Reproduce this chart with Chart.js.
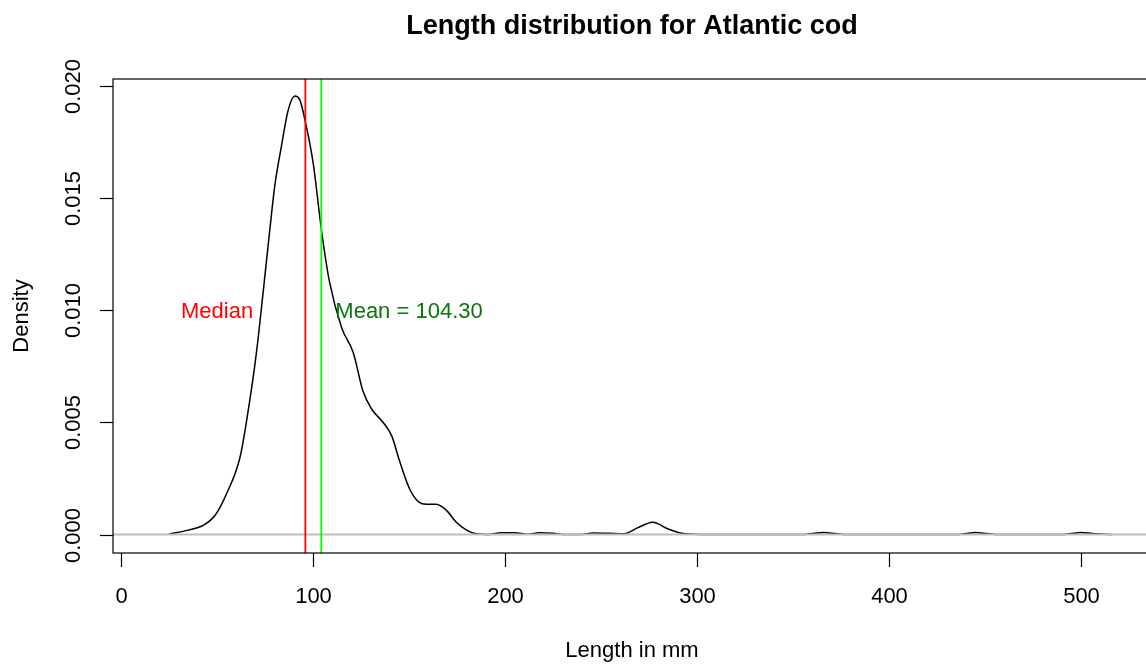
<!DOCTYPE html>
<html>
<head>
<meta charset="utf-8">
<title>Length distribution for Atlantic cod</title>
<script src="https://cdn.jsdelivr.net/npm/chart.js@4/dist/chart.umd.min.js"></script>
<style>
  html, body { margin: 0; padding: 0; background: #fff; overflow: hidden; }
  canvas { display: block; }
</style>
</head>
<body>
<canvas id="densityChart" width="1160" height="664"></canvas>
<script>
// Kernel density of cod lengths
const lengthMm = [25, 35, 43, 49, 55, 62, 66, 70.5, 74, 77.5, 80, 83.5, 87, 90.5, 93, 95.5,
  100, 104.5, 108.5, 115, 121, 126, 130.5, 136.5, 141, 145, 150.5, 155, 159, 164, 169.5, 174.5,
  180, 185, 192, 198, 205, 212, 218, 225, 232, 240, 246, 254, 262, 269, 277, 285, 292, 298, 305,
  355, 360, 366, 372, 378, 435, 440, 445, 451, 457, 490, 495, 500, 506, 516];
const density = [0.00003, 0.0002, 0.00042, 0.00086, 0.00183, 0.00346, 0.0054, 0.0081, 0.0108,
  0.0136, 0.0155, 0.0173, 0.0189, 0.01955, 0.0194, 0.0186,
  0.0166, 0.0135, 0.0113, 0.0092, 0.0081, 0.0064, 0.0056, 0.005, 0.0044, 0.0033, 0.002, 0.00146,
  0.00135, 0.00135, 0.00108, 0.00056,
  0.0002, 0.00004, 0.00001, 0.00008, 0.00008, 0.00002, 0.00008, 0.00006, 0, 0.00001, 0.00007,
  0.00006, 0.00004, 0.0003, 0.00055, 0.00025, 0.00006, 0.00002, 0,
  0, 0.00005, 0.00009, 0.00005, 0, 0, 0.00005, 0.00009, 0.00005, 0, 0, 0.00005, 0.00009, 0.00005, 0];

const medianLength = 96;
const meanLength = 104.3;

// axis ranges and ticks (R style, 4% padding)
const xRange = [-4.2, 536.5];
const yRange = [-0.00082, 0.02031];
const xTicks = [0, 100, 200, 300, 400, 500];
const yTicks = [0, 0.005, 0.010, 0.015, 0.020];
const yTickLabels = ['0.000', '0.005', '0.010', '0.015', '0.020'];

const FONT = "'Liberation Sans', Arial, Helvetica, sans-serif";

const curvePoints = lengthMm.map((x, i) => ({ x: x, y: density[i] }));

// axes, box, title and labels drawn R-like on top of the chart
const baseGraphics = {
  id: 'baseGraphics',
  afterDraw(chart) {
    const ctx = chart.ctx;
    const xs = chart.scales.x;
    const ys = chart.scales.y;
    const area = chart.chartArea;
    ctx.save();

    // plot box
    ctx.strokeStyle = '#000';
    ctx.lineWidth = 1.2;
    ctx.strokeRect(area.left, area.top, area.right - area.left, area.bottom - area.top);

    // x ticks
    ctx.fillStyle = '#000';
    ctx.font = '22px ' + FONT;
    ctx.textAlign = 'center';
    ctx.textBaseline = 'alphabetic';
    xTicks.forEach(v => {
      const px = Math.round(xs.getPixelForValue(v)) + 0.5;
      ctx.beginPath();
      ctx.moveTo(px, area.bottom);
      ctx.lineTo(px, area.bottom + 14);
      ctx.stroke();
      ctx.fillText(String(v), px, 603);
    });

    // y ticks, labels turned like R's las=0
    yTicks.forEach((v, i) => {
      const py = Math.round(ys.getPixelForValue(v)) + 0.5;
      ctx.beginPath();
      ctx.moveTo(area.left, py);
      ctx.lineTo(area.left - 13, py);
      ctx.stroke();
      ctx.save();
      ctx.translate(80, py);
      ctx.rotate(-Math.PI / 2);
      ctx.fillText(yTickLabels[i], 0, 0);
      ctx.restore();
    });

    // axis titles
    ctx.fillText('Length in mm', (area.left + area.right) / 2, 657);
    ctx.save();
    ctx.translate(28, (area.top + area.bottom) / 2);
    ctx.rotate(-Math.PI / 2);
    ctx.fillText('Density', 0, 0);
    ctx.restore();

    // main title
    ctx.font = 'bold 27px ' + FONT;
    ctx.fillText('Length distribution for Atlantic cod', (area.left + area.right) / 2, 34);

    // text labels inside the plot
    ctx.font = '22px ' + FONT;
    const ty = ys.getPixelForValue(0.01) + 8;
    ctx.fillStyle = '#FF0000';
    ctx.fillText('Median', xs.getPixelForValue(50), ty);
    ctx.fillStyle = '#0B740B';
    ctx.fillText('Mean = ' + meanLength.toFixed(2), xs.getPixelForValue(150), ty);

    ctx.restore();
  }
};

const ctx = document.getElementById('densityChart').getContext('2d');
new Chart(ctx, {
  type: 'line',
  data: {
    datasets: [
      {
        label: 'Mean',
        data: [{ x: meanLength, y: yRange[0] }, { x: meanLength, y: yRange[1] }],
        borderColor: '#00FF00',
        borderWidth: 1.8,
        pointRadius: 0,
        order: 0
      },
      {
        label: 'Median',
        data: [{ x: medianLength, y: yRange[0] }, { x: medianLength, y: yRange[1] }],
        borderColor: '#FF0000',
        borderWidth: 1.8,
        pointRadius: 0,
        order: 1
      },
      {
        label: 'zero',
        data: [{ x: xRange[0], y: 0 }, { x: xRange[1], y: 0 }],
        borderColor: '#BEBEBE',
        borderWidth: 2,
        pointRadius: 0,
        order: 2
      },
      {
        label: 'Density',
        data: curvePoints,
        borderColor: '#000',
        borderWidth: 1.5,
        pointRadius: 0,
        cubicInterpolationMode: 'monotone',
        fill: false,
        order: 3
      }
    ]
  },
  options: {
    responsive: false,
    animation: false,
    devicePixelRatio: 1,
    layout: { padding: { left: 113, top: 79, right: 9, bottom: 111 } },
    plugins: {
      legend: { display: false },
      tooltip: { enabled: false },
      title: { display: false }
    },
    scales: {
      x: { type: 'linear', min: xRange[0], max: xRange[1], display: false },
      y: { type: 'linear', min: yRange[0], max: yRange[1], display: false }
    }
  },
  plugins: [baseGraphics]
});
</script>
</body>
</html>
